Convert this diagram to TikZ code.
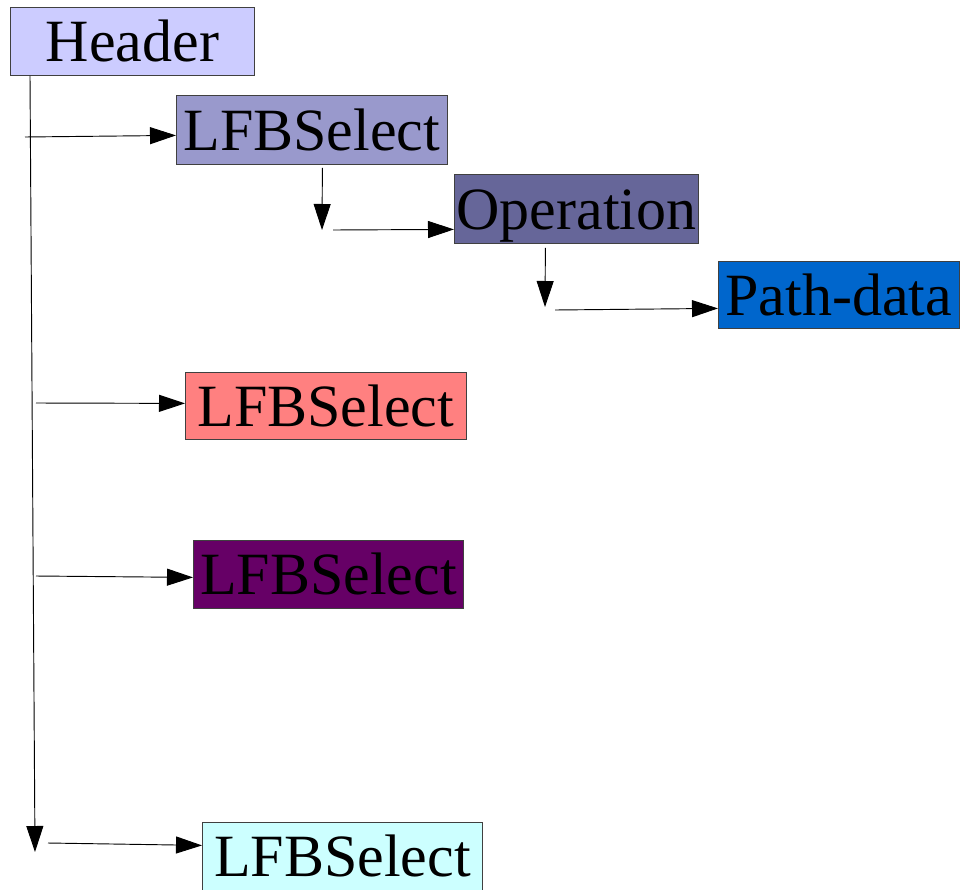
\documentclass[tikz,border=0pt]{standalone}
\usepackage{fontspec}
\setmainfont{Liberation Serif}
\usetikzlibrary{arrows.meta,calc}
\definecolor{hdrc}{HTML}{CCCCFF}
\definecolor{selc}{HTML}{9999CC}
\definecolor{opc}{HTML}{666699}
\definecolor{pdc}{HTML}{0066CC}
\definecolor{pinkc}{HTML}{FF8080}
\definecolor{plumc}{HTML}{660066}
\definecolor{cyanc}{HTML}{CCFFFF}

\begin{document}
\begin{tikzpicture}[x=0.75pt, y=-0.75pt, line width=0.7pt,
    >={Triangle[length=19.5pt,width=12.75pt]},
    box/.style={draw=black!75, line width=0.6pt, anchor=north west, inner sep=0pt,
      font=\fontsize{45}{54}\selectfont, text height=30.6pt, text depth=0pt}]
  \useasboundingbox (0,0) rectangle (960,889);

  \node[box, fill=hdrc, minimum width=183pt, minimum height=51pt] (hdr) at (10,7) {Header};
  \node[box, fill=selc, minimum width=203.25pt, minimum height=51.75pt] (sel1) at (176,95) {LFBSelect};
  \node[box, fill=opc, minimum width=183pt, minimum height=51.75pt] (op) at (454,174) {Operation};
  \node[box, fill=pdc, minimum width=180.75pt, minimum height=50.25pt] (pd) at (718,261) {Path-data};
  \node[box, fill=pinkc, minimum width=210.75pt, minimum height=50.25pt] (sel2) at (185,372) {LFBSelect};
  \node[box, fill=plumc, minimum width=202.5pt, minimum height=51pt] (sel3) at (193,540) {LFBSelect};
  \node[box, fill=cyanc, minimum width=210pt, minimum height=51pt] (sel4) at (202,822) {LFBSelect};

  % free ends of the connectors
  \coordinate (trunk) at (35,852);
  \coordinate (b1) at (25,137);
  \coordinate (b2) at (36,403);
  \coordinate (b3) at (36,576);
  \coordinate (b4) at (48,843);
  \coordinate (k1) at (322,230);
  \coordinate (k1h) at (333,230);
  \coordinate (k2) at (545,307);
  \coordinate (k2h) at (555,310);

  \draw[->] ($(hdr.south west)+(20,0)$) -- (trunk);
  \draw[->] (b1) -- ($(sel1.west)+(0,5.5)$);
  \draw[->] ($(sel1.south)+(10.5,3)$) -- (k1);
  \draw[->] (k1h) -- ($(op.west)+(0,20.5)$);
  \draw[->] ($(op.south)+(-31,4)$) -- (k2);
  \draw[->] (k2h) -- ($(pd.west)+(0,13.5)$);
  \draw[->] (b2) -- ($(sel2.west)+(0,-2.5)$);
  \draw[->] (b3) -- ($(sel3.west)+(0,3)$);
  \draw[->] (b4) -- ($(sel4.west)+(0,-11)$);
\end{tikzpicture}
\end{document}
